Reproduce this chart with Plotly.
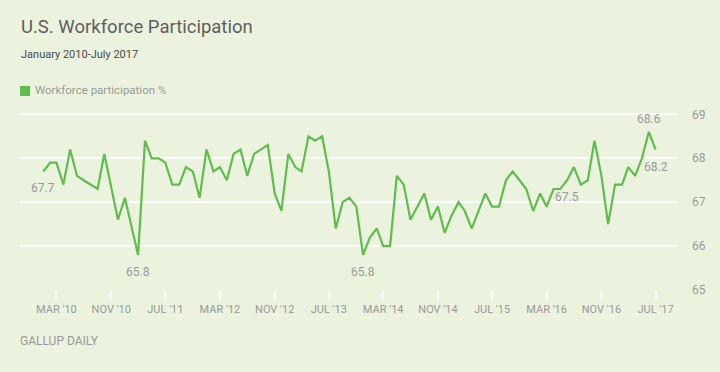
import plotly.graph_objects as go
import pandas as pd

# ---- data -------------------------------------------------------------
months = pd.date_range("2010-01-01", periods=91, freq="MS")
participation = [
    67.7, 67.9, 67.9, 67.4, 68.2, 67.6, 67.5, 67.4, 67.3, 68.1, 67.35, 66.6,   # 2010
    67.1, 66.45, 65.8, 68.4, 68.0, 68.0, 67.9, 67.4, 67.4, 67.8, 67.7, 67.1,   # 2011
    68.2, 67.7, 67.8, 67.5, 68.1, 68.2, 67.6, 68.1, 68.2, 68.3, 67.2, 66.8,    # 2012
    68.1, 67.8, 67.7, 68.5, 68.4, 68.5, 67.7, 66.4, 67.0, 67.1, 66.9, 65.8,    # 2013
    66.2, 66.4, 66.0, 66.0, 67.6, 67.4, 66.6, 66.9, 67.2, 66.6, 66.9, 66.3,    # 2014
    66.7, 67.0, 66.8, 66.4, 66.8, 67.2, 66.9, 66.9, 67.5, 67.7, 67.5, 67.3,    # 2015
    66.8, 67.2, 66.9, 67.3, 67.3, 67.5, 67.8, 67.4, 67.5, 68.4, 67.6, 66.5,    # 2016
    67.4, 67.4, 67.8, 67.6, 68.0, 68.6, 68.2,                                  # 2017
]
tick_dates = pd.date_range("2010-03-01", periods=12, freq="8MS")
tick_labels = ["MAR '10", "NOV '10", "JUL '11", "MAR '12", "NOV '12", "JUL '13",
               "MAR '14", "NOV '14", "JUL '15", "MAR '16", "NOV '16", "JUL '17"]
y_ticks = [65, 66, 67, 68, 69]
# annotated points: (date, value, position)
labelled = [
    ("2010-01-01", 67.7, "below"),
    ("2011-03-01", 65.8, "below"),
    ("2013-12-01", 65.8, "below"),
    ("2016-06-01", 67.5, "below"),
    ("2017-06-01", 68.6, "above"),
    ("2017-07-01", 68.2, "below"),
]

title = "U.S. Workforce Participation"
subtitle = "January 2010-July 2017"
series_name = "Workforce participation %"
source = "GALLUP DAILY"

# ---- style ------------------------------------------------------------
W, H = 720, 372
L, R, T, B = 20, 43, 110, 82
BG = "#ebf3de"
GREEN = "#5fbd4d"
GREY = "#9a9a9a"
FONT = "Roboto"

def px_x(px):
    return (px - L) / (W - L - R)

def px_y(py):
    return (H - B - py) / (H - T - B)

fig = go.Figure()
fig.add_trace(go.Scatter(
    x=months, y=participation, mode="lines",
    line=dict(color=GREEN, width=2.2), showlegend=False,
    hoverinfo="skip",
))

annotations = []
for d, v, pos in labelled:
    annotations.append(dict(
        x=d, y=v, xref="x", yref="y", text=f"{v:.1f}", showarrow=False,
        yshift=(13 if pos == "above" else -17),
        font=dict(family=FONT, size=12, color=GREY),
    ))

annotations += [
    dict(x=px_x(19), y=px_y(27), xref="paper", yref="paper", text=title,
         showarrow=False, xanchor="left", yanchor="middle",
         font=dict(family=FONT, size=18.5, color="#5e5e5e")),
    dict(x=px_x(19), y=px_y(54), xref="paper", yref="paper", text=subtitle,
         showarrow=False, xanchor="left", yanchor="middle",
         font=dict(family=FONT, size=11, color="#4a4a4a")),
    dict(x=px_x(33), y=px_y(90), xref="paper", yref="paper", text=series_name,
         showarrow=False, xanchor="left", yanchor="middle",
         font=dict(family=FONT, size=11.5, color=GREY)),
    dict(x=px_x(18), y=px_y(341), xref="paper", yref="paper", text=source,
         showarrow=False, xanchor="left", yanchor="middle",
         font=dict(family=FONT, size=12, color=GREY)),
]

shapes = [dict(type="rect", xref="paper", yref="paper",
               x0=px_x(20), x1=px_x(30), y0=px_y(96), y1=px_y(86),
               fillcolor=GREEN, line=dict(width=0))]

fig.update_layout(
    width=W, height=H,
    margin=dict(l=L, r=R, t=T, b=B, autoexpand=False),
    paper_bgcolor=BG, plot_bgcolor=BG,
    annotations=annotations, shapes=shapes,
    xaxis=dict(
        type="date", range=["2009-09-19", "2017-10-05"],
        tickvals=tick_dates, ticktext=tick_labels,
        ticks="outside", ticklen=9, tickwidth=2, tickcolor="white",
        showgrid=False, zeroline=False, showline=False, automargin=False,
        tickfont=dict(family=FONT, size=11, color=GREY),
    ),
    yaxis=dict(
        range=[65, 69.1], side="right", tickvals=y_ticks,
        showgrid=True, gridcolor="white", gridwidth=2,
        zeroline=False, showline=False, ticks="", automargin=False,
        ticklabelstandoff=14,
        tickfont=dict(family=FONT, size=12, color=GREY),
    ),
    hovermode=False,
)

fig.write_html(
    "out.html",
    config={"displayModeBar": False},
    post_script=f"document.body.style.margin='0';document.body.style.background='{BG}';",
)
